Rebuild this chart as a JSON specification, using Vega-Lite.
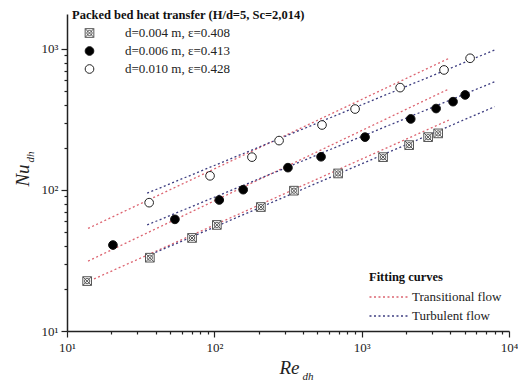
{
  "$schema": "https://vega.github.io/schema/vega-lite/v6.json",
  "width": 442,
  "height": 317,
  "autosize": {"type": "none"},
  "padding": {"left": 67, "top": 14, "right": 9, "bottom": 51},
  "background": "white",
  "config": {"view": {"stroke": null}, "font": "Liberation Serif"},
  "datasets": {
    "pts": [
      {"series": "d=0.004 m, ε=0.408", "Re": 13.7, "Nu": 22.6},
      {"series": "d=0.004 m, ε=0.408", "Re": 36.5, "Nu": 33.1},
      {"series": "d=0.004 m, ε=0.408", "Re": 70.6, "Nu": 45.7},
      {"series": "d=0.004 m, ε=0.408", "Re": 104, "Nu": 56.5},
      {"series": "d=0.004 m, ε=0.408", "Re": 207, "Nu": 75.7},
      {"series": "d=0.004 m, ε=0.408", "Re": 347, "Nu": 98.9},
      {"series": "d=0.004 m, ε=0.408", "Re": 692, "Nu": 131},
      {"series": "d=0.004 m, ε=0.408", "Re": 1397, "Nu": 171},
      {"series": "d=0.004 m, ε=0.408", "Re": 2100, "Nu": 208},
      {"series": "d=0.004 m, ε=0.408", "Re": 2825, "Nu": 237},
      {"series": "d=0.004 m, ε=0.408", "Re": 3305, "Nu": 252},
      {"series": "d=0.006 m, ε=0.413", "Re": 20.5, "Nu": 40.7},
      {"series": "d=0.006 m, ε=0.413", "Re": 54, "Nu": 61.9},
      {"series": "d=0.006 m, ε=0.413", "Re": 108, "Nu": 84.9},
      {"series": "d=0.006 m, ε=0.413", "Re": 157, "Nu": 100.5},
      {"series": "d=0.006 m, ε=0.413", "Re": 316, "Nu": 144},
      {"series": "d=0.006 m, ε=0.413", "Re": 530, "Nu": 172},
      {"series": "d=0.006 m, ε=0.413", "Re": 1054, "Nu": 237},
      {"series": "d=0.006 m, ε=0.413", "Re": 2153, "Nu": 319},
      {"series": "d=0.006 m, ε=0.413", "Re": 3200, "Nu": 378},
      {"series": "d=0.006 m, ε=0.413", "Re": 4170, "Nu": 423},
      {"series": "d=0.006 m, ε=0.413", "Re": 5040, "Nu": 472},
      {"series": "d=0.010 m, ε=0.428", "Re": 36.1, "Nu": 81.3},
      {"series": "d=0.010 m, ε=0.428", "Re": 93.5, "Nu": 126},
      {"series": "d=0.010 m, ε=0.428", "Re": 180, "Nu": 171},
      {"series": "d=0.010 m, ε=0.428", "Re": 275, "Nu": 224},
      {"series": "d=0.010 m, ε=0.428", "Re": 538, "Nu": 289},
      {"series": "d=0.010 m, ε=0.428", "Re": 902, "Nu": 375},
      {"series": "d=0.010 m, ε=0.428", "Re": 1824, "Nu": 532},
      {"series": "d=0.010 m, ε=0.428", "Re": 3622, "Nu": 710},
      {"series": "d=0.010 m, ε=0.428", "Re": 5445, "Nu": 859}
    ],
    "fits": [
      {"series": "A", "flow": "Transitional flow", "Re": 14.3, "Nu": 22.7},
      {"series": "A", "flow": "Transitional flow", "Re": 3900, "Nu": 313},
      {"series": "A", "flow": "Turbulent flow", "Re": 35, "Nu": 34.0},
      {"series": "A", "flow": "Turbulent flow", "Re": 8000, "Nu": 390},
      {"series": "B", "flow": "Transitional flow", "Re": 13.9, "Nu": 31.3},
      {"series": "B", "flow": "Transitional flow", "Re": 3900, "Nu": 520},
      {"series": "B", "flow": "Turbulent flow", "Re": 35, "Nu": 56.5},
      {"series": "B", "flow": "Turbulent flow", "Re": 8000, "Nu": 586},
      {"series": "C", "flow": "Transitional flow", "Re": 13.9, "Nu": 53.4},
      {"series": "C", "flow": "Transitional flow", "Re": 3900, "Nu": 857},
      {"series": "C", "flow": "Turbulent flow", "Re": 35, "Nu": 94.9},
      {"series": "C", "flow": "Turbulent flow", "Re": 8000, "Nu": 984}
    ]
  },
  "layer": [
    {
      "data": {"name": "fits"},
      "mark": {"type": "line", "strokeDash": [2, 2.5], "strokeWidth": 1.3},
      "encoding": {
        "x": {
          "field": "Re", "type": "quantitative",
          "scale": {"type": "log", "domain": [10, 10000], "nice": false},
          "axis": {"orient": "bottom", "domain": false, "ticks": false, "labels": false, "grid": false,
            "title": "dh", "titleFontStyle": "italic", "titleFontWeight": "normal", "titleFontSize": 11,
            "titleColor": "#222", "titleX": 235, "titleY": 48, "titleAlign": "left", "titleBaseline": "alphabetic"}
        },
        "y": {
          "field": "Nu", "type": "quantitative",
          "scale": {"type": "log", "domain": [10, 1770], "nice": false},
          "axis": {"orient": "left", "domain": false, "ticks": false, "labels": false, "grid": false,
            "title": "dh", "titleFontStyle": "italic", "titleFontWeight": "normal", "titleFontSize": 11,
            "titleColor": "#222", "titleX": -34, "titleY": 148, "titleAngle": -90, "titleAlign": "left", "titleBaseline": "alphabetic"}
        },
        "detail": {"field": "series"},
        "color": {
          "field": "flow", "type": "nominal",
          "scale": {"domain": ["Transitional flow", "Turbulent flow"], "range": ["#dc6470", "#3d3d80"]},
          "legend": {"title": "Fitting curves", "orient": "none", "legendX": 302, "legendY": 257,
            "padding": 0, "titleFont": "Liberation Serif", "titleFontSize": 12.5, "titleFontWeight": "bold",
            "titleColor": "#111", "titlePadding": 6, "labelFont": "Liberation Serif", "labelFontSize": 13,
            "labelColor": "#222", "symbolOffset": 13, "labelOffset": 15, "rowPadding": 4,
            "symbolType": "M-3,0L3,0", "symbolSize": 178, "symbolStrokeWidth": 1.3, "symbolDash": [2, 2.5]}
        }
      }
    },
    {
      "data": {"name": "pts"},
      "mark": {"type": "point", "filled": true, "strokeWidth": 1, "size": 75, "opacity": 1},
      "encoding": {
        "x": {
          "field": "Re", "type": "quantitative",
          "scale": {"type": "log", "domain": [10, 10000], "nice": false},
          "axis": {"orient": "bottom", "grid": false,
            "values": [10,20,30,40,50,60,70,80,90,100,200,300,400,500,600,700,800,900,1000,2000,3000,4000,5000,6000,7000,8000,9000,10000],
            "labelExpr": "datum.value==10?'10¹':datum.value==100?'10²':datum.value==1000?'10³':datum.value==10000?'10⁴':''",
            "labelFont": "Liberation Serif", "labelFontSize": 13, "labelColor": "#222", "labelPadding": 4,
            "labelFlush": false, "labelOverlap": false,
            "tickSize": {"condition": {"test": "indexof([10,100,1000,10000], datum.value) >= 0", "value": 6}, "value": 3},
            "tickColor": "#222", "tickWidth": 1.2, "domainColor": "#222", "domainWidth": 1.5,
            "title": "Re", "titleFont": "Liberation Serif", "titleFontStyle": "italic", "titleFontWeight": "normal",
            "titleFontSize": 19, "titleColor": "#222", "titleX": 222, "titleY": 42, "titleAlign": "center", "titleBaseline": "alphabetic"}
        },
        "y": {
          "field": "Nu", "type": "quantitative",
          "scale": {"type": "log", "domain": [10, 1770], "nice": false},
          "axis": {"orient": "left", "grid": false,
            "values": [10,20,30,40,50,60,70,80,90,100,200,300,400,500,600,700,800,900,1000],
            "labelExpr": "datum.value==10?'10¹':datum.value==100?'10²':datum.value==1000?'10³':''",
            "labelFont": "Liberation Serif", "labelFontSize": 13, "labelColor": "#222", "labelPadding": 3,
            "labelFlush": false, "labelOverlap": false,
            "tickSize": {"condition": {"test": "indexof([10,100,1000], datum.value) >= 0", "value": 6}, "value": 3},
            "tickColor": "#222", "tickWidth": 1.2, "domainColor": "#222", "domainWidth": 1.5,
            "title": "Nu", "titleFont": "Liberation Serif", "titleFontStyle": "italic", "titleFontWeight": "normal",
            "titleFontSize": 19, "titleColor": "#222", "titleX": -39, "titleY": 161, "titleAngle": -90, "titleAlign": "center", "titleBaseline": "alphabetic"}
        },
        "shape": {
          "field": "series", "type": "nominal",
          "scale": {"range": ["M-1,-1L1,-1L1,1L-1,1Z M-1,-1L1,1 M1,-1L-1,1 M0.6,0A0.6,0.6 0 1 1 -0.6,0A0.6,0.6 0 1 1 0.6,0Z", "circle", "circle"]},
          "legend": {"title": "Packed bed heat transfer (H/d=5, Sc=2,014)", "titleLimit": 400, "orient": "none", "legendX": 5, "legendY": -5,
            "padding": 0, "titleFont": "Liberation Serif", "titleFontSize": 12.5, "titleFontWeight": "bold",
            "titleColor": "#111", "titlePadding": 5, "labelFont": "Liberation Serif", "labelFontSize": 13,
            "labelColor": "#222", "symbolOffset": 11, "labelOffset": 29, "rowPadding": 4, "symbolSize": 75,
            "symbolStrokeWidth": 1}
        },
        "fill": {
          "field": "series", "type": "nominal",
          "scale": {"range": ["white", "black", "white"]},
          "legend": {"title": "Packed bed heat transfer (H/d=5, Sc=2,014)", "titleLimit": 400, "orient": "none", "legendX": 5, "legendY": -5,
            "padding": 0, "titleFont": "Liberation Serif", "titleFontSize": 12.5, "titleFontWeight": "bold",
            "titleColor": "#111", "titlePadding": 5, "labelFont": "Liberation Serif", "labelFontSize": 13,
            "labelColor": "#222", "symbolOffset": 11, "labelOffset": 29, "rowPadding": 4, "symbolSize": 75,
            "symbolStrokeWidth": 1}
        },
        "stroke": {
          "field": "series", "type": "nominal",
          "scale": {"range": ["#555555", "#111111", "#222222"]},
          "legend": {"title": "Packed bed heat transfer (H/d=5, Sc=2,014)", "titleLimit": 400, "orient": "none", "legendX": 5, "legendY": -5,
            "padding": 0, "titleFont": "Liberation Serif", "titleFontSize": 12.5, "titleFontWeight": "bold",
            "titleColor": "#111", "titlePadding": 5, "labelFont": "Liberation Serif", "labelFontSize": 13,
            "labelColor": "#222", "symbolOffset": 11, "labelOffset": 29, "rowPadding": 4, "symbolSize": 75,
            "symbolStrokeWidth": 1}
        }
      }
    }
  ],
  "resolve": {"axis": {"x": "independent", "y": "independent"}}
}
